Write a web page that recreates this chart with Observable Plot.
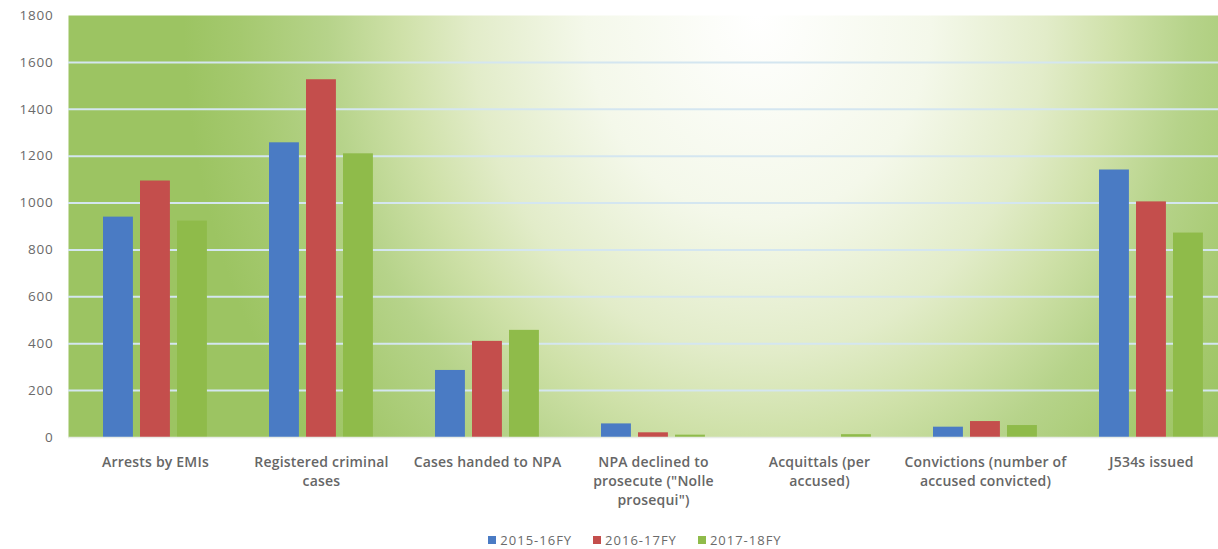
<!DOCTYPE html>
<html>
<head>
<meta charset="utf-8">
<script src="https://cdn.jsdelivr.net/npm/d3@7"></script>
<script src="https://cdn.jsdelivr.net/npm/@observablehq/plot@0.6"></script>
<style>
  html, body { margin: 0; padding: 0; background: #ffffff; overflow: hidden; }
  #chart svg { display: block; }
  #legend { height: 30px; display: flex; justify-content: center; align-items: center; padding-left: 52px;
    font-family: "Open Sans", "Liberation Sans", sans-serif; font-size: 13px; letter-spacing: 1px; color: #6a6a6a; gap: 21px; }
  #legend .item { display: flex; align-items: center; gap: 4px; }
  #legend .sw { width: 8px; height: 8px; display: inline-block; }
</style>
</head>
<body>
<div id="chart"></div>
<div id="legend"></div>
<script>
const categories = [
  "Arrests by EMIs",
  "Registered criminal cases",
  "Cases handed to NPA",
  "NPA declined to prosecute (\"Nolle prosequi\")",
  "Acquittals (per accused)",
  "Convictions (number of accused convicted)",
  "J534s issued"
];
const tickLabels = [
  "Arrests by EMIs",
  "Registered criminal\ncases",
  "Cases handed to NPA",
  "NPA declined to\nprosecute (\"Nolle\nprosequi\")",
  "Acquittals (per\naccused)",
  "Convictions (number of\naccused convicted)",
  "J534s issued"
];
const series = ["2015-16FY", "2016-17FY", "2017-18FY"];
const values2015 = [940, 1257, 286, 58, 0, 44, 1141];
const values2016 = [1094, 1526, 410, 20, 0, 68, 1005];
const values2017 = [923, 1210, 457, 10, 12, 51, 872];
const colors = ["#4a7bc4", "#c44e4c", "#8fbb4a"];
const yTicks = [0, 200, 400, 600, 800, 1000, 1200, 1400, 1600, 1800];

const seriesValues = [values2015, values2016, values2017];
const rows = [];
series.forEach((s, i) => categories.forEach((c, j) => rows.push({category: c, series: s, value: seriesValues[i][j]})));

const width = 1218, height = 525;
const mL = 68, mR = 0, mT = 15, mB = 88;
const rangeEnd = 1238;
const padIn = 0.375, padOut = 0.2;
const step = (rangeEnd - mL) / (categories.length - padIn + 2 * padOut);
const bw = step * (1 - padIn);
const barW = 30, barStep = 37;

const labelOf = new Map(categories.map((c, i) => [c, tickLabels[i]]));

const barMarks = series.map((s, i) => Plot.barY(rows.filter(d => d.series === s), {
  x: "category", y: "value", fill: "series",
  insetLeft: i * barStep, insetRight: bw - barW - i * barStep
}));

const chart = Plot.plot({
  width, height,
  marginLeft: mL, marginRight: mR, marginTop: mT, marginBottom: mB,
  style: {fontFamily: "'Open Sans', 'Liberation Sans', sans-serif", background: "transparent"},
  x: {type: "band", domain: categories, range: [mL, rangeEnd], paddingInner: padIn, paddingOuter: padOut, label: null},
  y: {domain: [0, 1800], label: null},
  color: {domain: series, range: colors},
  marks: [
    Plot.frame({fill: "#cfe0aa", stroke: "none"}),
    Plot.ruleY(yTicks.filter(t => t > 0 && t < 1800), {stroke: "#d4e6f0", strokeWidth: 2}),
    ...barMarks,
    Plot.ruleY([0], {stroke: "#e8ece6", strokeWidth: 1.5}),
    Plot.axisY({ticks: yTicks, tickSize: 0, tickPadding: 15, fontSize: 13.5, fill: "#6a6a6a", label: null,
      tickFormat: d => String(d)}),
    Plot.axisX({tickSize: 0, tickPadding: 16, fontSize: 14, fontWeight: 600, fill: "#666666", lineHeight: 1.36,
      tickFormat: d => labelOf.get(d), label: null})
  ]
});

// gradient background for plot area
const svg = d3.select(chart);
svg.selectAll("g[aria-label='y-axis tick label'] text, g[aria-label='y-axis tick label']").style("letter-spacing", "0.8px");
svg.selectAll("g[aria-label='x-axis tick label']").style("letter-spacing", "0.2px");
const defs = svg.insert("defs", ":first-child");
const grad = defs.append("radialGradient").attr("id", "bg")
  .attr("gradientUnits", "objectBoundingBox")
  .attr("cx", 0.6).attr("cy", 0).attr("r", 1).attr("fx", 0.6).attr("fy", 0)
  .attr("gradientTransform", "translate(0.6 0) scale(0.5 1.6) translate(-0.6 0)");
[[0, "#ffffff"], [0.3, "#f4f8ea"], [0.5, "#e2ecc9"], [0.62, "#cfe1a9"], [0.75, "#b6d38a"], [0.9, "#a5c96f"], [1, "#9cc462"]]
  .forEach(([o, c]) => grad.append("stop").attr("offset", o).attr("stop-color", c));
svg.selectAll("[aria-label='frame']").each(function() {
  if (this.tagName === "rect") d3.select(this).attr("fill", "url(#bg)");
  else d3.select(this).selectAll("rect").attr("fill", "url(#bg)");
});

document.getElementById("chart").appendChild(chart);

const legend = document.getElementById("legend");
series.forEach((s, i) => {
  const item = document.createElement("span");
  item.className = "item";
  const sw = document.createElement("span");
  sw.className = "sw";
  sw.style.background = colors[i];
  item.appendChild(sw);
  item.appendChild(document.createTextNode(s));
  legend.appendChild(item);
});
</script>
</body>
</html>
